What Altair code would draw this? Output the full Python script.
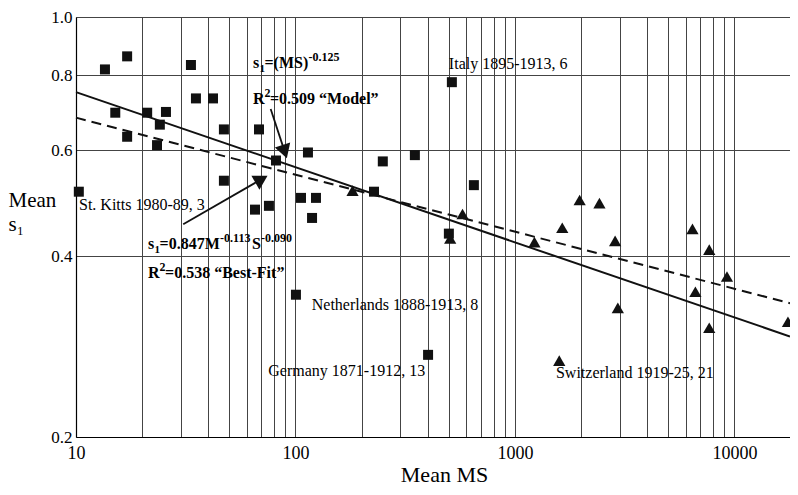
import altair as alt
import pandas as pd

# ---------------- data ----------------
square_ms = [10.3, 13.55, 17.1, 15.1, 17.1, 21.1, 25.7, 24.1, 23.4, 33.4, 35.2, 42.1,
             47.2, 47.2, 68.2, 65.4, 75.7, 81.5, 114, 106, 124, 119, 100.5, 228,
             250, 350, 516, 650, 500, 402]
square_s1 = [0.512, 0.818, 0.86, 0.693, 0.632, 0.693, 0.695, 0.662, 0.612, 0.832, 0.732, 0.732,
             0.65, 0.534, 0.65, 0.478, 0.485, 0.577, 0.595, 0.50, 0.50, 0.463, 0.345, 0.512,
             0.575, 0.589, 0.779, 0.525, 0.436, 0.274]

tri_ms = [182, 507, 577, 1227, 1592, 1643, 1972, 2427, 2861, 2943, 6440, 6640, 7680, 7680, 9250, 17540]
tri_s1 = [0.514, 0.428, 0.47, 0.422, 0.268, 0.446, 0.496, 0.49, 0.424, 0.328, 0.444, 0.349, 0.41, 0.304, 0.37, 0.311]

line_ms = [10, 17920]
model_s1 = [0.75, 0.294]
bestfit_s1 = [0.68, 0.334]

x_grid = [10, 20, 30, 40, 50, 60, 70, 80, 90,
          100, 200, 300, 400, 500, 600, 700, 800, 900,
          1000, 2000, 3000, 4000, 5000, 6000, 7000, 8000, 9000, 10000]
y_ticks = [0.2, 0.4, 0.6, 0.8, 1.0]

label_text = ["St. Kitts 1980-89, 3", "Italy 1895-1913, 6", "Netherlands 1888-1913, 8",
              "Germany 1871-1912, 13", "Switzerland 1919-25, 21"]
label_ms = [10.32, 500, 118.6, 75.2, 1538]
label_s1 = [0.478, 0.818, 0.3256, 0.253, 0.251]

# arrows: start -> head
arrow_id = ["model", "model", "best", "best"]
arrow_ms = [77.1, 89.3, 30.8, 70.0]
arrow_s1 = [0.703, 0.597, 0.452, 0.537]
head_ms = [89.3, 70.0]
head_s1 = [0.597, 0.537]
head_angle = [162, 60]

FONT = "Liberation Serif"
INK = "#111111"

xs = alt.Scale(type="log", domain=[10, 17920], nice=False)
ys = alt.Scale(type="log", domain=[0.2, 1.0], nice=False)

x_axis = alt.Axis(
    values=x_grid,
    labelExpr="indexof([10,100,1000,10000], datum.value) >= 0 ? format(datum.value, 'd') : ''",
    grid=True, ticks=False, domain=True, domainColor="#000", domainWidth=1.2,
    labelFont=FONT, labelFontSize=18, labelColor="#000", labelPadding=7,
    labelOverlap=False, labelFlush=False,
    title="Mean MS", titleFont=FONT, titleFontSize=22, titleFontWeight="normal",
    titleColor="#000", titleX=368, titleY=44, titleAlign="center", titleBaseline="alphabetic",
)
y_axis = alt.Axis(
    values=y_ticks, format=".1f",
    grid=True, ticks=False, domain=True, domainColor="#000", domainWidth=1.2,
    labelFont=FONT, labelFontSize=17, labelColor="#000", labelPadding=4,
    labelOverlap=False, labelFlush=False,
    title=["Mean", "s\u2081"], titleFont=FONT, titleFontSize=21, titleFontWeight="normal",
    titleColor="#000", titleAngle=0, titleAlign="left", titleBaseline="alphabetic",
    titleX=-68, titleY=189, titleLineHeight=24,
)


def X(f):
    return alt.X(f, type="quantitative", scale=xs, axis=x_axis)


def Y(f):
    return alt.Y(f, type="quantitative", scale=ys, axis=y_axis)


sq_df = pd.DataFrame({"ms": square_ms, "s1": square_s1})
tri_df = pd.DataFrame({"ms": tri_ms, "s1": tri_s1})
line_df = pd.DataFrame({"ms": line_ms, "model": model_s1, "best": bestfit_s1})

squares = alt.Chart(sq_df).mark_point(shape="square", filled=True, size=100, color=INK, opacity=1).encode(
    x=X("ms"), y=Y("s1"))
triangles = alt.Chart(tri_df).mark_point(shape="triangle-up", filled=True, size=150, color=INK, opacity=1).encode(
    x=X("ms"), y=Y("s1"))

model_line = alt.Chart(line_df).mark_line(color=INK, strokeWidth=2).encode(x=X("ms"), y=Y("model"))
best_line = alt.Chart(line_df).mark_line(color=INK, strokeWidth=2, strokeDash=[10, 6]).encode(
    x=X("ms"), y=Y("best"))

arrow_df = pd.DataFrame({"ms": arrow_ms, "s1": arrow_s1, "id": arrow_id})
arrows = alt.Chart(arrow_df).mark_line(color=INK, strokeWidth=1.8).encode(
    x=X("ms"), y=Y("s1"), detail="id:N")
head_df = pd.DataFrame({"ms": head_ms, "s1": head_s1, "angle": head_angle})
heads = alt.Chart(head_df).mark_point(shape="triangle-up", filled=True, size=260, color=INK, opacity=1).encode(
    x=X("ms"), y=Y("s1"), angle=alt.Angle("angle:Q", scale=None))

lab_df = pd.DataFrame({"ms": label_ms, "s1": label_s1, "t": label_text})
labels = alt.Chart(lab_df).mark_text(font=FONT, fontSize=16, color="#000", align="left",
                                     baseline="alphabetic").encode(x=X("ms"), y=Y("s1"), text="t:N")

# bold formula annotations, composed of pieces (text, dx, dy, size)
formulas = [
    (64.0, 0.824, [("s", 0, 0, 16), ("1", 6.5, 4, 11), ("=(MS)", 11.5, 0, 16), ("-0.125", 55.5, -7, 12)]),
    (64.0, 0.717, [("R", 0, 0, 16), ("2", 11.5, -7, 12), ("=0.509 \u201cModel\u201d", 17, 0, 16)]),
    (21.3, 0.411, [("s", 0, 0, 16), ("1", 6.5, 4, 11), ("=0.847M", 11.5, 0, 16), ("-0.113", 72, -7, 12),
                   ("S", 104, 0, 16), ("-0.090", 113, -7, 12)]),
    (21.3, 0.368, [("R", 0, 0, 16), ("2", 11.5, -7, 12), (" =0.538 \u201cBest-Fit\u201d", 17, 0, 16)]),
]
formula_layers = []
for fx, fy, pieces in formulas:
    for txt, dx, dy, size in pieces:
        d = pd.DataFrame({"ms": [fx], "s1": [fy], "t": [txt]})
        formula_layers.append(
            alt.Chart(d).mark_text(font=FONT, fontSize=size, fontWeight="bold", color="#000",
                                   align="left", baseline="alphabetic", dx=dx, dy=dy)
            .encode(x=X("ms"), y=Y("s1"), text="t:N")
        )

chart = alt.layer(squares, triangles, model_line, best_line, arrows, heads, labels, *formula_layers).properties(
    width=714, height=420,
    autosize=alt.AutoSizeParams(type="none"),
    padding={"left": 68, "top": 9, "right": 0, "bottom": 50},
).configure_view(stroke=None).configure_axis(
    gridColor="#444444", gridWidth=1, gridOpacity=1
)

chart.save("out.html", embed_options={"renderer": "svg", "actions": False})
